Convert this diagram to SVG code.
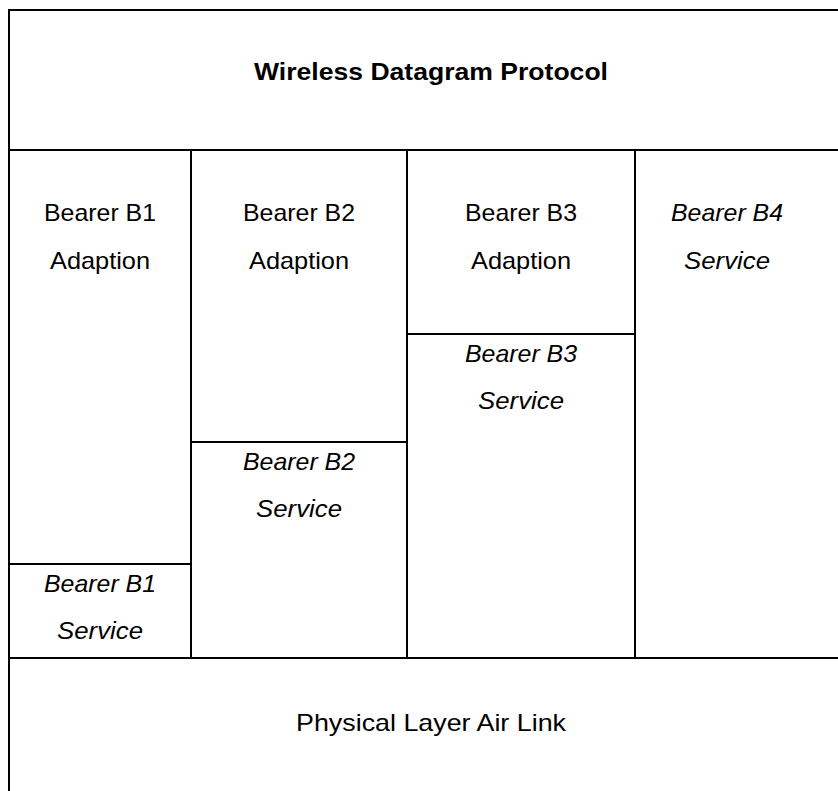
<svg xmlns="http://www.w3.org/2000/svg" width="838" height="791" viewBox="0 0 838 791">
<style>
.ln{stroke:#000;stroke-width:2;fill:none}
text{font-family:"Liberation Sans",Arial,sans-serif;font-size:24px;fill:#000;text-anchor:middle}
.b{font-weight:bold}
.i{font-style:italic}
</style>
<rect x="0" y="0" width="838" height="791" fill="#fff"/>
<g id="frame">
<path class="ln" d="M9,791 V10 H838"/>
</g>
<g id="connectors">
<path class="ln" d="M9,150 H838 M9,658 H838 M191,150 V658 M407,150 V658 M635,150 V658 M9,564 H191 M191,442 H407 M407,334 H635"/>
</g>
<g id="wdp"><text class="b" x="431" y="80" textLength="354" lengthAdjust="spacingAndGlyphs">Wireless Datagram Protocol</text></g>
<g id="b1a"><text x="100" y="221" textLength="112" lengthAdjust="spacingAndGlyphs">Bearer B1</text><text x="100" y="269" textLength="100" lengthAdjust="spacingAndGlyphs">Adaption</text></g>
<g id="b2a"><text x="299" y="221" textLength="112" lengthAdjust="spacingAndGlyphs">Bearer B2</text><text x="299" y="269" textLength="100" lengthAdjust="spacingAndGlyphs">Adaption</text></g>
<g id="b3a"><text x="521" y="221" textLength="112" lengthAdjust="spacingAndGlyphs">Bearer B3</text><text x="521" y="269" textLength="100" lengthAdjust="spacingAndGlyphs">Adaption</text></g>
<g id="b4s"><text class="i" x="727" y="221" textLength="112" lengthAdjust="spacingAndGlyphs">Bearer B4</text><text class="i" x="727" y="269" textLength="86" lengthAdjust="spacingAndGlyphs">Service</text></g>
<g id="b3s"><text class="i" x="521" y="362" textLength="112" lengthAdjust="spacingAndGlyphs">Bearer B3</text><text class="i" x="521" y="409" textLength="86" lengthAdjust="spacingAndGlyphs">Service</text></g>
<g id="b2s"><text class="i" x="299" y="470" textLength="112" lengthAdjust="spacingAndGlyphs">Bearer B2</text><text class="i" x="299" y="517" textLength="86" lengthAdjust="spacingAndGlyphs">Service</text></g>
<g id="b1s"><text class="i" x="100" y="592" textLength="112" lengthAdjust="spacingAndGlyphs">Bearer B1</text><text class="i" x="100" y="639" textLength="86" lengthAdjust="spacingAndGlyphs">Service</text></g>
<g id="phy"><text x="431" y="731" textLength="270" lengthAdjust="spacingAndGlyphs">Physical Layer Air Link</text></g>
</svg>
